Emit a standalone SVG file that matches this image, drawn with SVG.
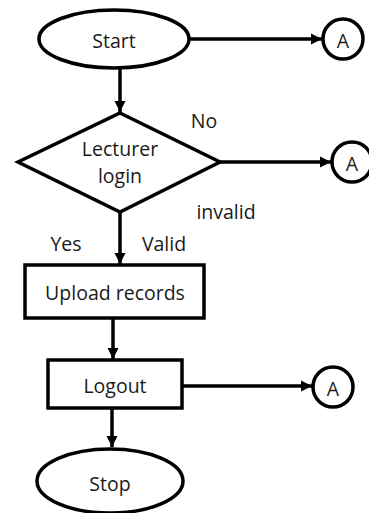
<svg xmlns="http://www.w3.org/2000/svg" width="369" height="513" viewBox="0 0 369 513">
  <style>
    .shape { fill: #ffffff; stroke: #000000; stroke-width: 3.5; }
    .conn { fill: none; stroke: #000000; stroke-width: 3.5; }
    text { font-family: "Open Sans", "Noto Sans", sans-serif; font-size: 19.5px; fill: #1a1a1a; text-anchor: middle; dominant-baseline: central; }
  </style>
  <defs>
    <marker id="arrow" viewBox="0 0 10 10" refX="10" refY="5" markerWidth="3.2" markerHeight="3.2" markerUnits="strokeWidth" orient="auto">
      <path d="M0,0 L10,5 L0,10 z" fill="#000000"/>
    </marker>
  </defs>

  <!-- connectors -->
  <g id="connectors">
    <line class="conn" x1="189" y1="39" x2="322" y2="39" marker-end="url(#arrow)"/>
    <line class="conn" x1="120" y1="68" x2="120" y2="112" marker-end="url(#arrow)"/>
    <line class="conn" x1="220" y1="162" x2="331" y2="162" marker-end="url(#arrow)"/>
    <line class="conn" x1="120" y1="212" x2="120" y2="264" marker-end="url(#arrow)"/>
    <line class="conn" x1="113" y1="318" x2="113" y2="359" marker-end="url(#arrow)"/>
    <line class="conn" x1="182" y1="386" x2="312" y2="386" marker-end="url(#arrow)"/>
    <line class="conn" x1="112" y1="408" x2="112" y2="447" marker-end="url(#arrow)"/>
  </g>

  <!-- edge labels -->
  <g id="labels">
    <text x="204" y="120">No</text>
    <text x="226" y="211">invalid</text>
    <text x="66" y="243">Yes</text>
    <text x="164" y="243">Valid</text>
  </g>

  <g id="start">
    <ellipse class="shape" cx="114" cy="39" rx="75" ry="29"/>
    <text x="114" y="40">Start</text>
  </g>

  <g id="connector-a1">
    <circle class="shape" cx="343" cy="39" r="20"/>
    <text x="343" y="40">A</text>
  </g>

  <g id="login">
    <polygon class="shape" points="120,113 220,162 120,212 18,162"/>
    <text x="120" y="148">Lecturer</text>
    <text x="120" y="175">login</text>
  </g>

  <g id="connector-a2">
    <circle class="shape" cx="352" cy="162" r="20"/>
    <text x="352" y="163">A</text>
  </g>

  <g id="upload">
    <rect class="shape" x="25" y="265" width="179" height="53"/>
    <text x="115" y="292">Upload records</text>
  </g>

  <g id="logout">
    <rect class="shape" x="48" y="360" width="134" height="48"/>
    <text x="115" y="385">Logout</text>
  </g>

  <g id="connector-a3">
    <circle class="shape" cx="333" cy="387" r="20"/>
    <text x="333" y="388">A</text>
  </g>

  <g id="stop">
    <ellipse class="shape" cx="110" cy="481" rx="73" ry="32"/>
    <text x="110" y="483">Stop</text>
  </g>
</svg>
